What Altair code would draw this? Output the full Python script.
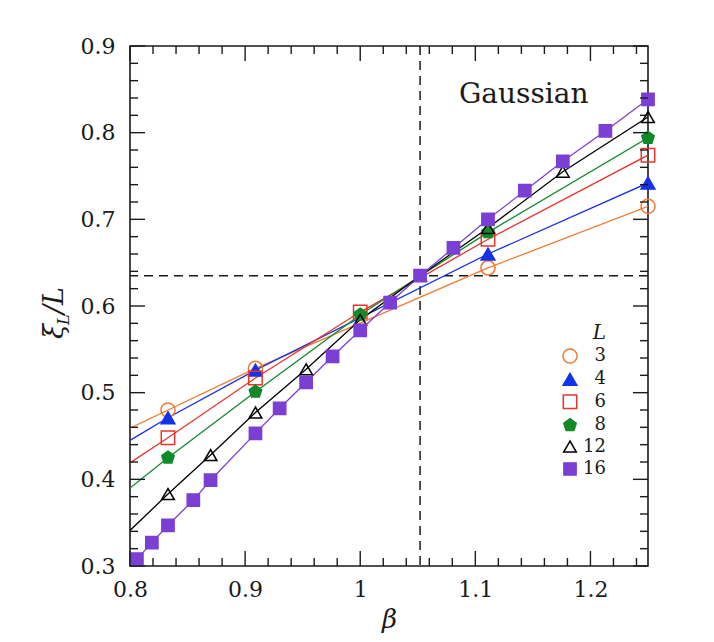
import altair as alt
import pandas as pd

# ---------------- data ----------------
L_labels = ['3', '4', '6', '8', '12', '16']

beta_3 = [0.833, 0.909, 1.111, 1.25]
xi_3 = [0.480, 0.528, 0.644, 0.715]

beta_4 = [0.833, 0.909, 1.111, 1.25]
xi_4 = [0.471, 0.526, 0.660, 0.742]

beta_6 = [0.833, 0.909, 1.0, 1.111, 1.25]
xi_6 = [0.448, 0.517, 0.593, 0.677, 0.774]

beta_8 = [0.833, 0.909, 1.0, 1.111, 1.25]
xi_8 = [0.425, 0.501, 0.590, 0.685, 0.794]

beta_12 = [0.833, 0.870, 0.909, 0.953, 1.0, 1.052, 1.111, 1.176, 1.25]
xi_12 = [0.383, 0.428, 0.477, 0.527, 0.584, 0.635, 0.690, 0.755, 0.818]

beta_16 = [0.806, 0.819, 0.833, 0.855, 0.870, 0.909, 0.930, 0.953, 0.976,
           1.0, 1.026, 1.052, 1.081, 1.111, 1.143, 1.176, 1.213, 1.25]
xi_16 = [0.308, 0.327, 0.347, 0.376, 0.399, 0.453, 0.482, 0.512, 0.542,
         0.572, 0.604, 0.635, 0.667, 0.700, 0.733, 0.767, 0.802, 0.8385]

# value of each line where it meets the left frame (beta = 0.8)
edge_beta = 0.8
edge_xi = [0.459, 0.445, 0.419, 0.390, 0.341, 0.300]

# crossing point (dashed lines)
beta_c = 1.052
xi_c = 0.635

# annotation
note_text = 'Gaussian'
note_beta = 1.142
note_xi = 0.8435

# axis ticks
x_major = [0.8, 0.9, 1.0, 1.1, 1.2]
y_major = [0.3, 0.4, 0.5, 0.6, 0.7, 0.8, 0.9]
x_minor = [round(0.8 + 0.02 * i, 2) for i in range(1, 23) if i % 5 != 0]
y_minor = [round(0.3 + 0.02 * i, 2) for i in range(1, 30) if i % 5 != 0]

# ---------------- styles ----------------
colors = ['#F07A32', '#1432E6', '#E8352C', '#108A28', '#000000', '#7B3FD4']
fills = ['transparent', '#1432E6', 'transparent', '#108A28', 'transparent', '#7B3FD4']
PENT = 'M0,-1L0.951,-0.309L0.588,0.809L-0.588,0.809L-0.951,-0.309Z'
shapes = ['circle', 'triangle-up', 'square', PENT, 'triangle-up', 'square']
sizes = [200, 150, 110, 200, 150, 115]

SERIF = 'DejaVu Serif'
INK = '#1a1a1a'
W, H = 518, 520
MAJ, MIN = 15, 8

# ---------------- tables ----------------
series = [(beta_3, xi_3), (beta_4, xi_4), (beta_6, xi_6),
          (beta_8, xi_8), (beta_12, xi_12), (beta_16, xi_16)]
pt_rows = []
line_tables = []
for lab, (bs, vs), e in zip(L_labels, series, edge_xi):
    rows = [{'beta': edge_beta, 'xi': e}]
    for b, v in zip(bs, vs):
        pt_rows.append({'beta': b, 'xi': v, 'L': lab})
        rows.append({'beta': b, 'xi': v})
    line_tables.append(pd.DataFrame(rows))
pts = pd.DataFrame(pt_rows)

xsc = alt.Scale(domain=[0.8, 1.25], nice=False, zero=False)
ysc = alt.Scale(domain=[0.3, 0.9], nice=False, zero=False)

x_axis = alt.Axis(values=x_major, format='~g', ticks=False, tickSize=0, domain=False,
                  grid=False, labelFont=SERIF, labelFontSize=22, labelColor=INK,
                  labelPadding=13, labelFlush=False, title='β', titleFont=SERIF,
                  titleFontStyle='italic', titleFontWeight='normal', titleFontSize=26,
                  titleColor=INK, titlePadding=6)
y_axis = alt.Axis(values=y_major, format='.1f', ticks=False, tickSize=0, domain=False,
                  grid=False, labelFont=SERIF, labelFontSize=22, labelColor=INK,
                  labelPadding=15, labelFlush=False, title=None)


def X():
    return alt.X('beta:Q', scale=xsc, axis=x_axis)


def Y():
    return alt.Y('xi:Q', scale=ysc, axis=y_axis)


leg = alt.Legend(title='L', orient='none', legendX=431, legendY=277,
                 titleFont=SERIF, titleFontStyle='italic', titleFontWeight='normal',
                 titleFontSize=20, titleColor=INK, titleAnchor='end', titlePadding=4,
                 labelFont=SERIF, labelFontSize=18, labelColor=INK,
                 labelAlign='right', labelOffset=27,
                 symbolStrokeWidth=1.5, rowPadding=3.4, padding=0)

dash_v = alt.Chart(pd.DataFrame({'beta': [beta_c]})).mark_rule(
    strokeDash=[9, 6], strokeWidth=1.5, color=INK).encode(x=X())
dash_h = alt.Chart(pd.DataFrame({'xi': [xi_c]})).mark_rule(
    strokeDash=[9, 6], strokeWidth=1.5, color=INK).encode(y=Y())

line_layers = [
    alt.Chart(t).mark_line(strokeWidth=1.3, clip=True, color=c).encode(x=X(), y=Y())
    for t, c in zip(line_tables, colors)
]

points = alt.Chart(pts).mark_point(filled=True, opacity=1, strokeWidth=1.5).encode(
    x=X(), y=Y(),
    shape=alt.Shape('L:N', scale=alt.Scale(domain=L_labels, range=shapes), legend=leg),
    stroke=alt.Stroke('L:N', scale=alt.Scale(domain=L_labels, range=colors), legend=leg),
    fill=alt.Fill('L:N', scale=alt.Scale(domain=L_labels, range=fills), legend=leg),
    size=alt.Size('L:N', scale=alt.Scale(domain=L_labels, range=sizes), legend=leg),
)


def xticks(vals, length):
    d = pd.DataFrame({'beta': vals})
    bot = alt.Chart(d).mark_rule(color=INK, strokeWidth=1.4).encode(
        x=X(), y=alt.value(H), y2=alt.value(H - length))
    top = alt.Chart(d).mark_rule(color=INK, strokeWidth=1.4).encode(
        x=X(), y=alt.value(0), y2=alt.value(length))
    return [bot, top]


def yticks(vals, length):
    d = pd.DataFrame({'xi': vals})
    left = alt.Chart(d).mark_rule(color=INK, strokeWidth=1.4).encode(
        y=Y(), x=alt.value(0), x2=alt.value(length))
    right = alt.Chart(d).mark_rule(color=INK, strokeWidth=1.4).encode(
        y=Y(), x=alt.value(W), x2=alt.value(W - length))
    return [left, right]


tick_layers = xticks(x_major, MAJ) + xticks(x_minor, MIN) + yticks(y_major, MAJ) + yticks(y_minor, MIN)

note = alt.Chart(pd.DataFrame({'beta': [note_beta], 'xi': [note_xi], 't': [note_text]})).mark_text(
    font=SERIF, fontSize=28, align='center', baseline='middle', color=INK).encode(
    x=X(), y=Y(), text='t:N')

# y-axis title  xi_L / L  (rotated, with subscript)
one = pd.DataFrame({'a': [0]})
TX, TY = -67, 293
yt1 = alt.Chart(one).mark_text(text='ξ', font=SERIF, fontStyle='italic', fontSize=27,
                               angle=270, align='left', baseline='alphabetic', color=INK).encode(
    x=alt.value(TX), y=alt.value(TY))
yt2 = alt.Chart(one).mark_text(text='L', font=SERIF, fontStyle='italic', fontSize=16,
                               angle=270, align='left', baseline='alphabetic', color=INK,
                               dx=14, dy=6).encode(x=alt.value(TX), y=alt.value(TY))
yt3 = alt.Chart(one).mark_text(text='/L', font=SERIF, fontStyle='italic', fontSize=27,
                               angle=270, align='left', baseline='alphabetic', color=INK,
                               dx=25).encode(x=alt.value(TX), y=alt.value(TY))

chart = alt.layer(dash_v, dash_h, *line_layers, points, *tick_layers, note, yt1, yt2, yt3).properties(
    width=W, height=H,
    autosize=alt.AutoSizeParams(type='none'),
    padding={'left': 122, 'top': 38, 'right': 50, 'bottom': 74},
    background='white',
).configure_view(stroke=INK, strokeWidth=1.6)

chart.save('out.html', embed_options={'renderer': 'svg', 'actions': False})
